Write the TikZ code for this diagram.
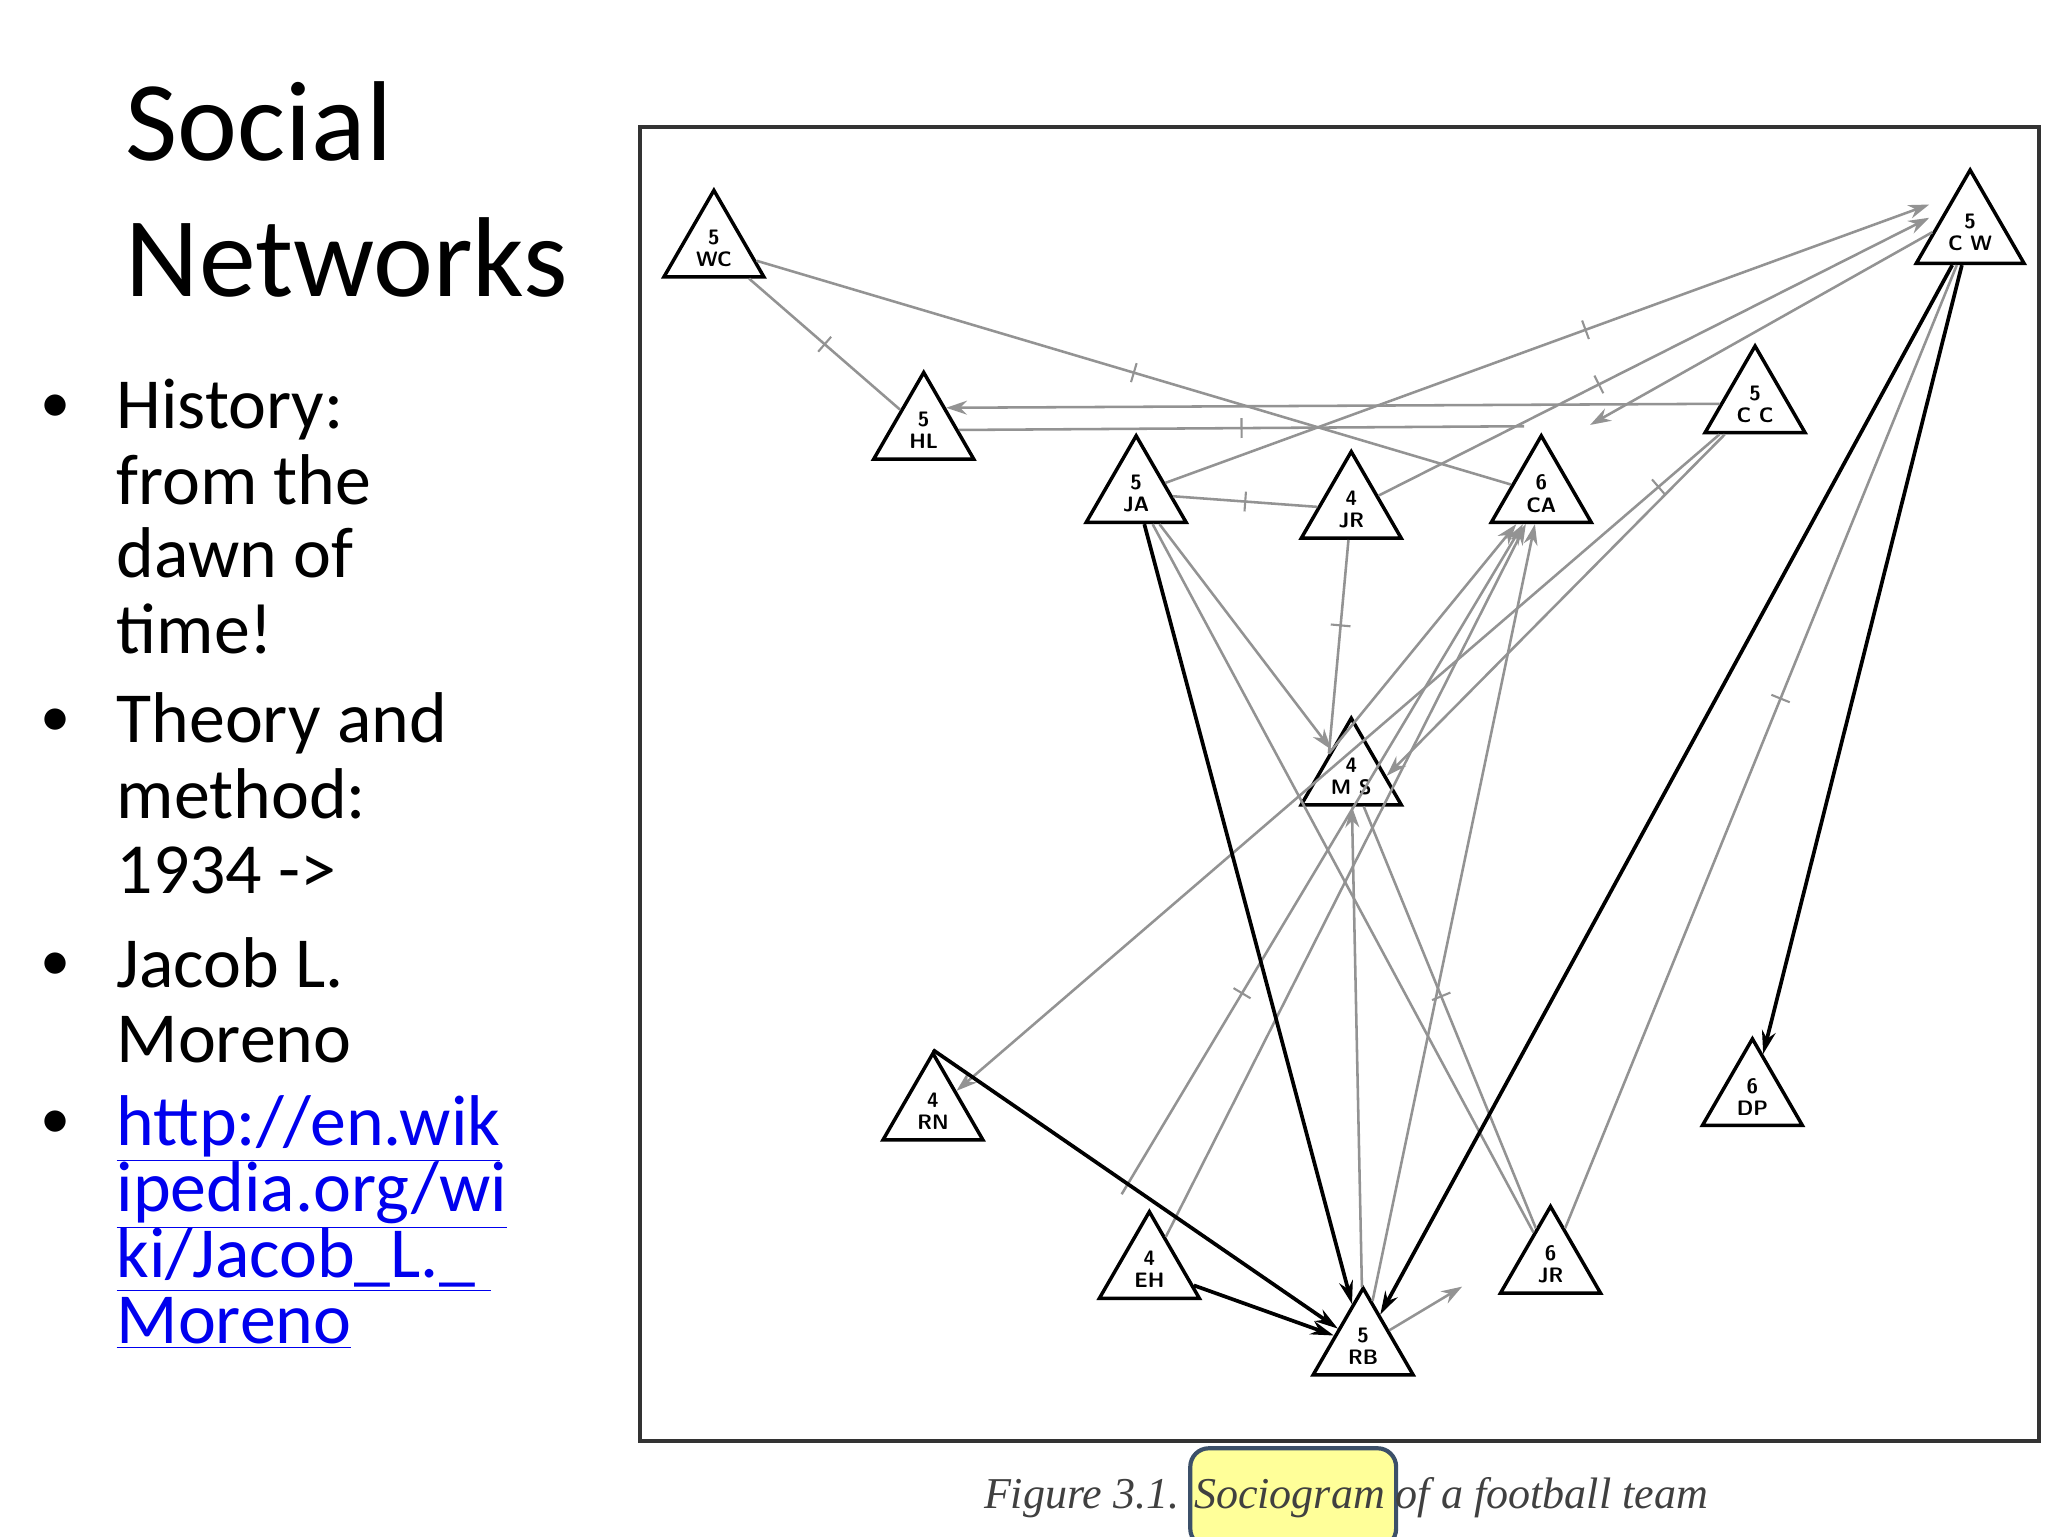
\documentclass[tikz,border=0pt]{standalone}
\usepackage{fontspec}
\setmainfont{Carlito}
\newfontfamily\capfont{Liberation Serif}
\usetikzlibrary{shapes.geometric,arrows.meta}
\definecolor{hl}{RGB}{255,255,153}
\definecolor{hlb}{RGB}{60,80,105}
\definecolor{lnk}{RGB}{0,0,238}
\begin{document}
\begin{tikzpicture}[x=0.02cm,y=-0.02cm,
  tri/.style={regular polygon,regular polygon sides=3,draw,line width=1.5pt,inner sep=0pt,minimum size=1.75cm,
     font=\sffamily\bfseries\fontsize{9}{9.5}\selectfont,align=center,text depth=0pt},
  g/.style={draw=gray!85,line width=1.1pt},
  ga/.style={g,-{Stealth[length=9pt,width=6pt]}},
  b/.style={draw=black,line width=1.6pt,-{Stealth[length=10pt,width=6pt]}},
  tk/.style={sloped,draw=gray!85,line width=0.9pt,inner sep=0pt,minimum width=0pt,minimum height=0.3cm},
  ttl/.style={anchor=base west,font=\fontsize{49}{49}\selectfont},
  bt/.style={anchor=base west,font=\fontsize{31}{31}\selectfont},
  bu/.style={anchor=base west,font=\fontsize{26}{26}\selectfont}]
\useasboundingbox[fill=white] (0,0) rectangle (1552,1164);
% title and bullets
\node[ttl,inner sep=0pt] (t1) at (95,122) {Social};
\node[ttl,inner sep=0pt] (t2) at (95,225) {Networks};
\foreach \y in {320,558,743,863} \node[bu,inner sep=0pt] at (30,\y) {\textbullet};
\node[bt,inner sep=0pt] (h1) at (88,325) {History:};
\node[bt,inner sep=0pt] (h2) at (88,382) {from the};
\node[bt,inner sep=0pt] (h3) at (88,438) {dawn of};
\node[bt,inner sep=0pt] (h4) at (88,495) {time!};
\node[bt,inner sep=0pt] (m1) at (88,563) {Theory and};
\node[bt,inner sep=0pt] (m2) at (88,620) {method:};
\node[bt,inner sep=0pt] (m3) at (88,677) {1934 ->};
\node[bt,inner sep=0pt] (j1) at (88,748) {Jacob L.};
\node[bt,inner sep=0pt] (j2) at (88,805) {Moreno};
\node[bt,inner sep=0pt,text=lnk] (l1) at (88,868) {\underline{http://en.wik}};
\node[bt,inner sep=0pt,text=lnk] (l2) at (88,918) {\underline{ipedia.org/wi}};
\node[bt,inner sep=0pt,text=lnk] (l3) at (88,968) {\underline{ki/Jacob\_L.\_\ }};
\node[bt,inner sep=0pt,text=lnk] (l4) at (88,1018) {\underline{Moreno}};
% frame
\draw[line width=1.8pt,draw=black!80] (485,96) rectangle (1545,1092);
% caption
\node[draw=hlb,fill=hl,line width=1.8pt,rounded corners=8pt,minimum width=156*0.02cm,minimum height=75*0.02cm] (hbox) at (980,1135) {};
\node[font=\capfont\itshape\fontsize{19}{19}\selectfont,text=black!75,anchor=base] (cap) at (1020,1143) {Figure 3.1. Sociogram of a football team};
% nodes
\node[tri] (WC) at (541,188) {5\\WC};
\node[tri] (HL) at (700,326) {5\\HL};
\node[tri] (JA) at (861,374) {5\\JA};
\node[tri] (JR1) at (1024,386) {4\\JR};
\node[tri] (CA) at (1168,374) {6\\CA};
\node[tri] (CC) at (1330,306) {5\\C C};
\node[tri] (CW) at (1493,176) {5\\C W};
\node[tri] (MS) at (1024,588) {4\\M S};
\node[tri] (RN) at (707,842) {4\\RN};
\node[tri] (DP) at (1328,831) {6\\DP};
\node[tri] (EH) at (871,962) {4\\EH};
\node[tri] (JR2) at (1175,958) {6\\JR};
\node[tri] (RB) at (1033,1020) {5\\RB};
\coordinate (p1) at (1155,323);
\coordinate (p2) at (1205,322);
\coordinate (p3) at (850,905);
\coordinate (p4) at (1108,975);
\coordinate (p5) at (1462,155);
\coordinate (p6) at (1462,165);
% gray edges
\draw[g] (WC) -- node[tk]{} (CA);
\draw[g] (WC) -- node[tk]{} (HL);
\draw[ga] (CC.west) -- (HL.north east);
\draw[g] (HL) -- node[tk]{} (p1);
\draw[ga] (JA) -- node[tk,pos=.55]{} (p5);
\draw[ga] (JR1) -- node[tk,pos=.4]{} (p6);
\draw[ga] (CW.west) -- (p2);
\draw[g] (JA) -- node[tk]{} (JR1);
\draw[g] (JR1) -- node[tk,pos=.4]{} (MS.north west);
\draw[ga] (MS.north west) -- (CA);
\draw[ga] (JA) -- (MS);
\draw[g] (JA) -- (JR2);
\draw[ga] (CC) -- node[tk,pos=.08]{} (RN);
\draw[ga] (CC) -- (MS.east);
\draw[ga] (p3) -- node[tk,pos=.3]{} (CA);
\draw[ga] (EH) -- (CA);
\draw[ga] (RB) -- (CA);
\draw[ga] (RB) -- (MS);
\draw[g] (MS) -- node[tk,pos=.45]{} (JR2);
\draw[g] (JR2) -- node[tk,pos=.55]{} (CW);
\draw[ga] (RB) -- (p4);
% black edges
\draw[b] (JA) -- (RB);
\draw[b] (CW) -- (RB);
\draw[b] (CW) -- (DP);
\draw[b] (RN.north) -- (RB);
\draw[b] (EH) -- (RB);
\end{tikzpicture}
\end{document}
